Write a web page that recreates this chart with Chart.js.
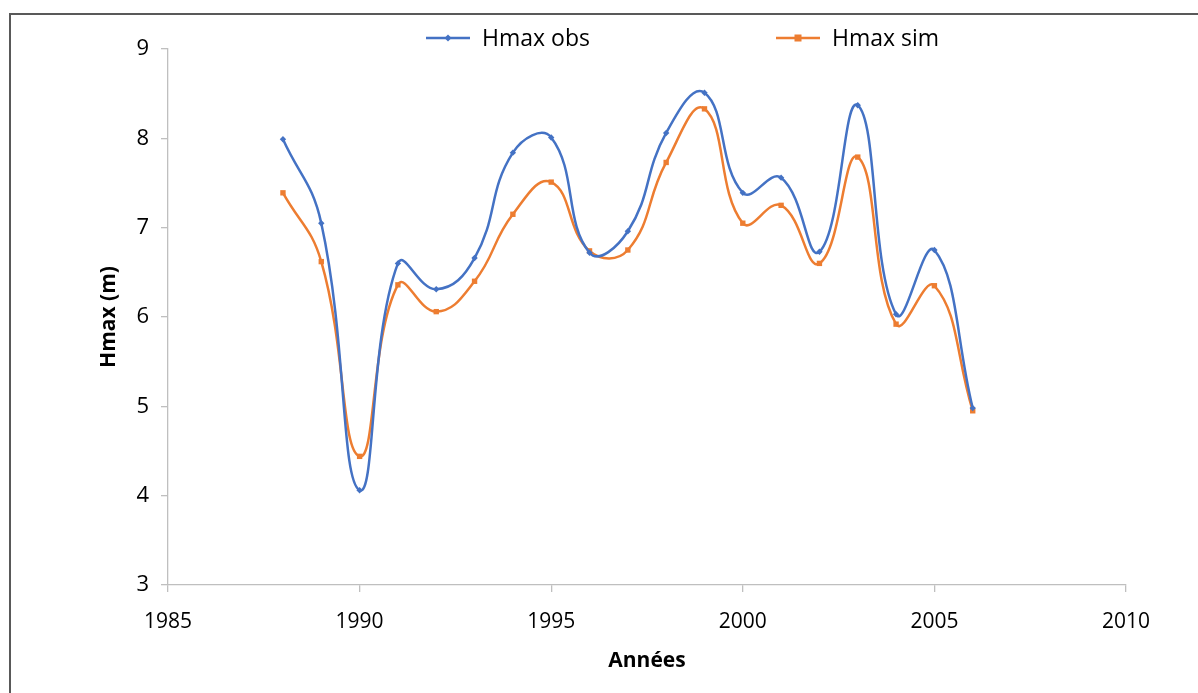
<!DOCTYPE html>
<html>
<head>
<meta charset="utf-8">
<script src="https://cdn.jsdelivr.net/npm/chart.js@4.4.0/dist/chart.umd.min.js"></script>
<style>
  html, body { margin: 0; padding: 0; background: #fff; }
  #wrap { position: relative; width: 1198px; height: 693px; overflow: hidden; }
  #frame { position: absolute; left: 9px; top: 13px; width: 1300px; height: 800px; border-left: 2px solid #595959; border-top: 2px solid #595959; }
  canvas { position: absolute; left: 0; top: 0; }
</style>
</head>
<body>
<div id="wrap">
  <div id="frame"></div>
  <canvas id="c" width="1198" height="693"></canvas>
</div>
<script>
const years = [1988, 1989, 1990, 1991, 1992, 1993, 1994, 1995, 1996, 1997, 1998, 1999, 2000, 2001, 2002, 2003, 2004, 2005, 2006];
const hmaxObs = [7.99, 7.05, 4.06, 6.60, 6.31, 6.66, 7.84, 8.01, 6.72, 6.96, 8.06, 8.51, 7.39, 7.56, 6.73, 8.37, 6.03, 6.75, 4.98];
const hmaxSim = [7.39, 6.62, 4.44, 6.36, 6.06, 6.40, 7.15, 7.51, 6.74, 6.75, 7.73, 8.33, 7.05, 7.25, 6.60, 7.79, 5.92, 6.35, 4.95];
const seriesNames = ['Hmax obs', 'Hmax sim'];
const seriesColors = ['#4472C4', '#ED7D31'];
const xTicks = [1985, 1990, 1995, 2000, 2005, 2010];
const yTicks = [3, 4, 5, 6, 7, 8, 9];

const FONT = "'Open Sans', 'Liberation Sans', sans-serif";

const legendPlugin = {
  id: 'customLegend',
  afterDraw(chart) {
    const ctx = chart.ctx;
    const items = [
      { x: 426, text: seriesNames[0], color: seriesColors[0], style: 'diamond' },
      { x: 776, text: seriesNames[1], color: seriesColors[1], style: 'square' }
    ];
    const y = 38;
    ctx.save();
    items.forEach(it => {
      ctx.strokeStyle = it.color;
      ctx.lineWidth = 2.5;
      ctx.beginPath();
      ctx.moveTo(it.x, y);
      ctx.lineTo(it.x + 44, y);
      ctx.stroke();
      ctx.fillStyle = it.color;
      const cx = it.x + 22;
      if (it.style === 'diamond') {
        ctx.beginPath();
        ctx.moveTo(cx, y - 3.5); ctx.lineTo(cx + 3.5, y); ctx.lineTo(cx, y + 3.5); ctx.lineTo(cx - 3.5, y); ctx.closePath();
        ctx.fill();
      } else {
        ctx.fillRect(cx - 3.5, y - 3.5, 7, 7);
      }
      ctx.fillStyle = '#000';
      ctx.font = "23px " + FONT;
      ctx.textBaseline = 'middle';
      ctx.textAlign = 'left';
      ctx.fillText(it.text, it.x + 56, y + 1);
    });
    ctx.restore();
  }
};

const toPts = (arr) => years.map((yr, i) => ({ x: yr, y: arr[i] }));

new Chart(document.getElementById('c'), {
  type: 'line',
  data: {
    datasets: [
      {
        label: seriesNames[0],
        data: toPts(hmaxObs),
        borderColor: seriesColors[0],
        backgroundColor: seriesColors[0],
        borderWidth: 2.5,
        pointStyle: 'rectRot',
        pointRadius: 3.2,
        pointBorderWidth: 0,
        tension: 0.45,
        fill: false
      },
      {
        label: seriesNames[1],
        data: toPts(hmaxSim),
        borderColor: seriesColors[1],
        backgroundColor: seriesColors[1],
        borderWidth: 2.5,
        pointStyle: 'rect',
        pointRadius: 3.8,
        pointBorderWidth: 0,
        tension: 0.45,
        fill: false
      }
    ]
  },
  options: {
    responsive: false,
    animation: false,
    devicePixelRatio: 1,
    layout: { padding: { top: 49, right: 72, bottom: 0, left: 0 } },
    elements: { line: { capBezierPoints: false } },
    plugins: {
      legend: { display: false },
      tooltip: { enabled: false }
    },
    scales: {
      x: {
        type: 'linear',
        min: xTicks[0],
        max: xTicks[xTicks.length - 1],
        afterBuildTicks(scale) { scale.ticks = xTicks.map(v => ({ value: v })); },
        afterFit(scale) { scale.height = 108; },
        ticks: {
          color: '#000',
          font: { family: FONT, size: 21 },
          padding: 17,
          maxRotation: 0,
          callback: v => String(v)
        },
        grid: { display: true, drawOnChartArea: false, drawTicks: true, tickLength: 7, color: '#bfbfbf', lineWidth: 1.3 },
        border: { display: true, color: '#bfbfbf', width: 1.3 },
        title: { display: true, text: 'Années', color: '#000', font: { family: FONT, size: 21, weight: 'bold' }, padding: { top: 8, bottom: 19 } }
      },
      y: {
        type: 'linear',
        min: yTicks[0],
        max: yTicks[yTicks.length - 1],
        afterBuildTicks(scale) { scale.ticks = yTicks.map(v => ({ value: v })); },
        afterFit(scale) { scale.width = 168; },
        ticks: {
          color: '#000',
          font: { family: FONT, size: 22 },
          padding: 12,
          callback: v => String(v)
        },
        grid: { display: true, drawOnChartArea: false, drawTicks: true, tickLength: 7, color: '#bfbfbf', lineWidth: 1.3 },
        border: { display: true, color: '#bfbfbf', width: 1.3 },
        title: { display: true, text: 'Hmax (m)', color: '#000', font: { family: FONT, size: 21, weight: 'bold' }, padding: { top: 96, bottom: 0 } }
      }
    }
  },
  plugins: [legendPlugin]
});
</script>
</body>
</html>
